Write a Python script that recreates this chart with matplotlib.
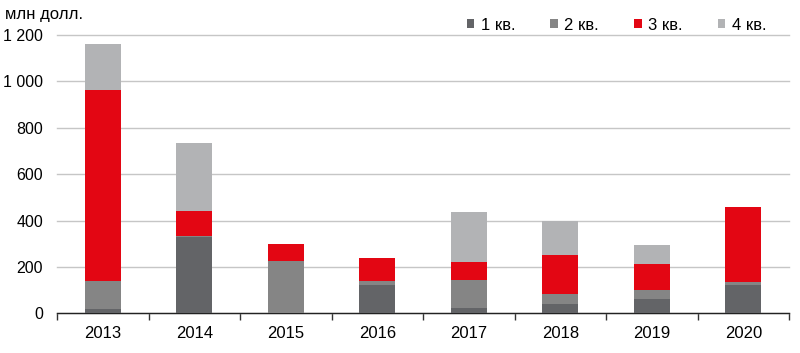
import matplotlib
matplotlib.use("Agg")
import matplotlib.pyplot as plt
from matplotlib.patches import Patch
import numpy as np

plt.rcParams['font.family'] = ['Liberation Sans', 'DejaVu Sans']

years = ["2013", "2014", "2015", "2016", "2017", "2018", "2019", "2020"]
q1 = [20, 328, 0, 122, 24, 40, 63, 122]
q2 = [120, 4, 225, 17, 120, 43, 36, 14]
q3 = [823, 107, 72, 99, 79, 170, 114, 324]
q4 = [198, 297, 0, 0, 214, 144, 82, 0]
series_labels = ["1 кв.", "2 кв.", "3 кв.", "4 кв."]
colors = ["#636467", "#858585", "#e30613", "#b2b3b5"]
yticks = [0, 200, 400, 600, 800, 1000, 1200]
ytick_labels = ["0", "200", "400", "600", "800", "1 000", "1 200"]

fig = plt.figure(figsize=(8, 3.53), dpi=100)
ax = fig.add_axes([57/800, (353-313.3)/353, (789-57)/800, (313.3-35)/353])

x = np.arange(len(years))
bottom = np.zeros(len(years))
for vals, col in zip([q1, q2, q3, q4], colors):
    ax.bar(x, vals, bottom=bottom, width=0.39, color=col, zorder=3)
    bottom += np.array(vals)

ax.set_xlim(-0.5, len(years) - 0.5)
ax.set_ylim(0, 1200)
ax.set_yticks(yticks)
ax.set_yticklabels(ytick_labels, fontsize=11.5)
ax.set_xticks(x)
ax.set_xticklabels(years, fontsize=12)
ax.set_xticks(np.arange(-0.5, len(years)), minor=True)
ax.tick_params(axis='x', which='major', length=0, pad=9)
ax.tick_params(axis='x', which='minor', length=5, width=1, color='#333333', direction='out')
ax.tick_params(axis='y', length=0, pad=10)
for s in ['top', 'right', 'left']:
    ax.spines[s].set_visible(False)
ax.spines['bottom'].set_color('#222222')
ax.spines['bottom'].set_linewidth(1)
ax.yaxis.grid(True, color='#c6c6c6', linewidth=1, zorder=0)
for gl in ax.get_ygridlines():
    gl.set_clip_on(False)
ax.set_axisbelow(True)

fig.text(5/800, 1 - 15/353, "млн долл.", fontsize=12, va='center', ha='left')

handles = [Patch(facecolor=c, edgecolor='none') for c in colors]
fig.legend(handles, series_labels, ncol=4, frameon=False, fontsize=12,
           loc='center right', bbox_to_anchor=(778/800, 1 - 25/353),
           handlelength=0.45, handleheight=0.45, handletextpad=0.4, columnspacing=2.1,
           borderpad=0.2)

fig.savefig("out.png", dpi=100)
